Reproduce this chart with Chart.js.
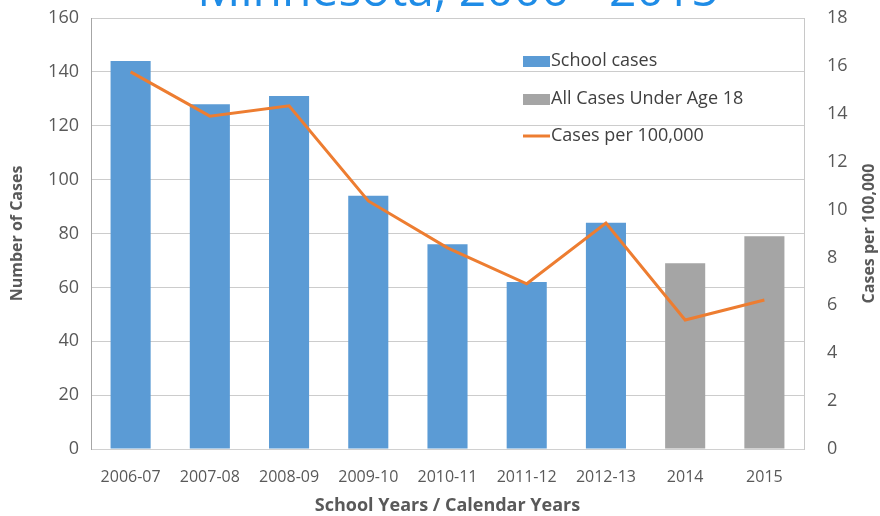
<!DOCTYPE html>
<html>
<head>
<meta charset="utf-8">
<script src="https://cdn.jsdelivr.net/npm/chart.js@4"></script>
<style>
  html, body { margin: 0; padding: 0; background: #fff; }
  #wrap { width: 880px; height: 516px; position: relative; }
</style>
</head>
<body>
<div id="wrap"><canvas id="chart" width="880" height="516"></canvas></div>
<script>
const years = ['2006-07', '2007-08', '2008-09', '2009-10', '2010-11', '2011-12', '2012-13', '2014', '2015']
const school_cases = [144, 128, 131, 94, 76, 62, 84, null, null]
const under18_cases = [null, null, null, null, null, null, null, 69, 79]
const rate_per_100k = [15.75, 13.9, 14.33, 10.36, 8.4, 6.9, 9.44, 5.39, 6.22]
const left_ticks = [0, 20, 40, 60, 80, 100, 120, 140, 160]
const right_ticks = [0, 2, 4, 6, 8, 10, 12, 14, 16, 18]

const font_family = "'Open Sans', 'Liberation Sans', sans-serif"
const text_grey = '#595959'

// title sits partly above the top edge, as in the cropped slide
// right axis title reads bottom to top, so it is drawn here too
const extra_text = {
	id: 'extra_text',
	afterDraw(chart) {
		const ctx = chart.ctx
		ctx.save()
		ctx.font = "48px " + font_family
		ctx.fillStyle = '#1f8ce6'
		ctx.textAlign = 'center'
		ctx.textBaseline = 'alphabetic'
		ctx.fillText('Minnesota, 2006 - 2015', 458, 6)

		const area = chart.chartArea
		ctx.translate(869, (area.top + area.bottom) / 2)
		ctx.rotate(-Math.PI / 2)
		ctx.font = "bold 16px " + font_family
		ctx.fillStyle = text_grey
		ctx.textBaseline = 'middle'
		ctx.fillText('Cases per 100,000', 0, 0)
		ctx.restore()
	}
}

// legend drawn inside the plot area, one entry per row
const inner_legend = {
	id: 'inner_legend',
	afterDraw(chart) {
		const ctx = chart.ctx
		const x = 523
		const rows = [61, 99, 136]
		ctx.save()
		ctx.font = "18px " + font_family
		ctx.textBaseline = 'middle'
		chart.data.datasets.forEach((ds, i) => {
			const y = rows[i]
			if (ds.type === 'line') {
				ctx.strokeStyle = ds.borderColor
				ctx.lineWidth = 3
				ctx.beginPath()
				ctx.moveTo(x, y)
				ctx.lineTo(x + 27, y)
				ctx.stroke()
			} else {
				ctx.fillStyle = ds.backgroundColor
				ctx.fillRect(x, y - 5, 27, 11)
			}
			ctx.fillStyle = '#404040'
			ctx.fillText(ds.label, x + 28, y)
		})
		ctx.restore()
	}
}

new Chart(document.getElementById('chart'), {
	type: 'bar',
	data: {
		labels: years,
		datasets: [{
			label: 'School cases',
			data: school_cases,
			backgroundColor: '#5b9bd5',
			yAxisID: 'y',
			order: 2
		}, {
			label: 'All Cases Under Age 18',
			data: under18_cases,
			backgroundColor: '#a5a5a5',
			yAxisID: 'y',
			order: 2
		}, {
			type: 'line',
			label: 'Cases per 100,000',
			data: rate_per_100k,
			borderColor: '#ed7d31',
			backgroundColor: '#ed7d31',
			borderWidth: 3,
			pointRadius: 0,
			tension: 0,
			yAxisID: 'y1',
			order: 1
		}]
	},
	options: {
		responsive: false,
		animation: false,
		devicePixelRatio: 1,
		layout: { padding: { top: 18, left: 0, right: 0, bottom: 0 } },
		datasets: {
			bar: { barPercentage: 0.506, categoryPercentage: 1, skipNull: true }
		},
		plugins: {
			legend: { display: false },
			tooltip: { enabled: false }
		},
		scales: {
			x: {
				grid: { display: false },
				border: { color: '#d0d0d0' },
				ticks: { color: text_grey, font: { family: font_family, size: 16 }, padding: 11, maxRotation: 0 },
				title: {
					display: true,
					text: 'School Years / Calendar Years',
					color: text_grey,
					font: { family: font_family, size: 18, weight: 'bold' },
					padding: { top: 0, bottom: -1 }
				},
				afterFit(scale) { scale.height = 67 }
			},
			y: {
				position: 'left',
				min: 0,
				max: 160,
				afterBuildTicks(scale) { scale.ticks = left_ticks.map(v => ({ value: v })) },
				grid: { color: '#cccccc', drawTicks: false },
				border: { color: '#a6a6a6' },
				ticks: { color: text_grey, font: { family: font_family, size: 18 }, padding: 12 },
				title: {
					display: true,
					text: 'Number of Cases',
					color: text_grey,
					font: { family: font_family, size: 16, weight: 'bold' },
					padding: { top: 8, bottom: 0 }
				},
				afterFit(scale) { scale.width = 91; scale.paddingTop = 0; scale.paddingBottom = 0 }
			},
			y1: {
				position: 'right',
				min: 0,
				max: 18,
				afterBuildTicks(scale) { scale.ticks = right_ticks.map(v => ({ value: v })) },
				grid: { drawOnChartArea: false, drawTicks: false },
				border: { color: '#c8c8c8' },
				ticks: { color: text_grey, font: { family: font_family, size: 18 }, padding: 23 },
				afterFit(scale) { scale.width = 76; scale.paddingTop = 0; scale.paddingBottom = 0 }
			}
		}
	},
	plugins: [extra_text, inner_legend]
})
</script>
</body>
</html>
